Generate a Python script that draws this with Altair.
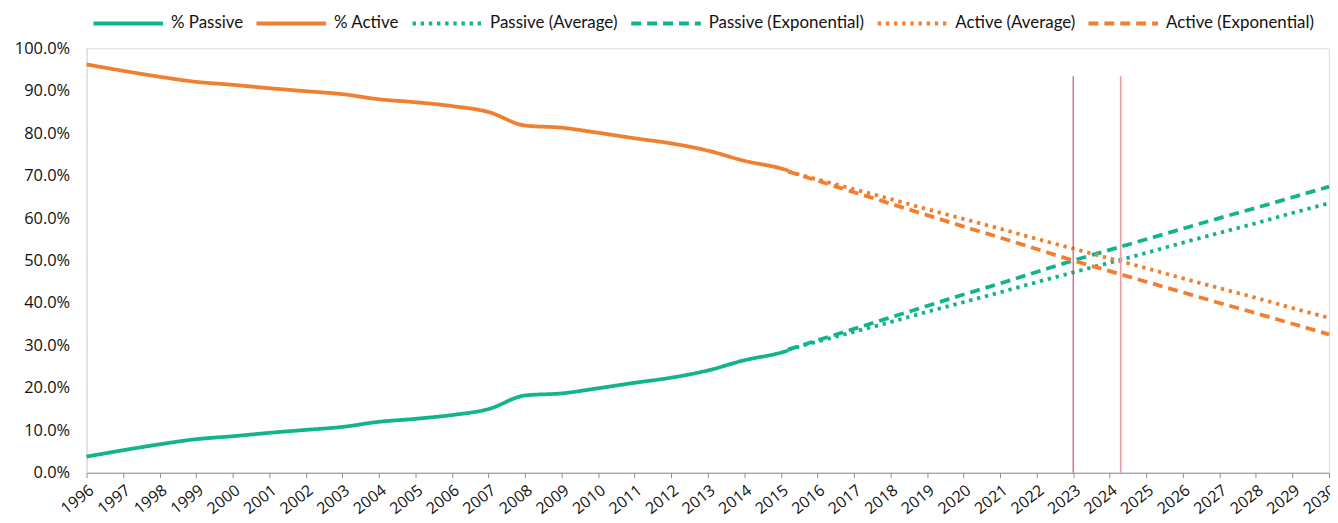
import altair as alt
import pandas as pd

# ---- data ----
hist_years = [1996, 1997, 1998, 1999, 2000, 2001, 2002, 2003, 2004, 2005,
              2006, 2007, 2008, 2009, 2010, 2011, 2012, 2013, 2014, 2015, 2015.2]
passive_pct = [3.8, 5.3, 6.7, 7.9, 8.6, 9.4, 10.1, 10.8, 12.0, 12.7,
               13.6, 15.0, 18.2, 18.7, 19.9, 21.2, 22.4, 24.1, 26.5, 28.3, 28.8]
active_pct = [96.2, 94.7, 93.3, 92.1, 91.4, 90.6, 89.9, 89.2, 88.0, 87.3,
              86.4, 85.0, 81.8, 81.3, 80.1, 78.8, 77.6, 75.9, 73.5, 71.7, 71.2]

proj_years = [2015.2, 2016, 2017, 2018, 2019, 2020, 2021, 2022, 2023,
              2024, 2025, 2026, 2027, 2028, 2029, 2030]
passive_avg = [29.0, 30.9, 33.2, 35.5, 37.9, 40.2, 42.5, 44.9, 47.2,
               49.5, 51.8, 54.2, 56.5, 58.8, 61.2, 63.5]
passive_exp = [29.0, 31.2, 33.9, 36.6, 39.3, 42.0, 44.6, 47.3, 50.0,
               52.5, 55.0, 57.5, 60.0, 62.4, 64.9, 67.4]
active_avg = [71.0, 69.1, 66.8, 64.5, 62.1, 59.8, 57.5, 55.1, 52.8,
              50.5, 48.2, 45.8, 43.5, 41.2, 38.8, 36.5]
active_exp = [71.0, 68.8, 66.1, 63.4, 60.7, 58.0, 55.4, 52.7, 50.0,
              47.5, 45.0, 42.5, 40.0, 37.6, 35.1, 32.6]

series_names = ["% Passive", "% Active", "Passive (Average)",
                "Passive (Exponential)", "Active (Average)", "Active (Exponential)"]
marker_years = [2023.0, 2024.3]
marker_top = 93.4
x_ticks = list(range(1996, 2031))
y_ticks = [i / 10 for i in range(11)]

# ---- build table ----
rows = []
for name, yrs, vals in [
    ("% Passive", hist_years, passive_pct),
    ("% Active", hist_years, active_pct),
    ("Passive (Average)", proj_years, passive_avg),
    ("Passive (Exponential)", proj_years, passive_exp),
    ("Active (Average)", proj_years, active_avg),
    ("Active (Exponential)", proj_years, active_exp),
]:
    for yv, v in zip(yrs, vals):
        rows.append({"series": name, "year": yv, "share": v / 100})
df = pd.DataFrame(rows)

GREEN = "#12b48b"
ORANGE = "#f07f2f"

x_scale = alt.Scale(domain=[1996, 2030], nice=False, zero=False)
y_scale = alt.Scale(domain=[0, 1], nice=False)

x_axis = alt.Axis(values=x_ticks, format="d", labelAngle=322, labelFontSize=16,
                  labelFont="Open Sans", labelColor="#111", domainColor="#8f8f8f",
                  tickColor="#8f8f8f", tickSize=5, labelPadding=4, grid=False,
                  labelOverlap=False, labelFlush=False, labelBound=False, title=None)
y_axis = alt.Axis(values=y_ticks, format=".1%", labelFontSize=16.5,
                  labelFont="Open Sans", labelColor="#111", domainColor="#d9d9d9",
                  ticks=False, labelPadding=17, grid=False, title=None)

legend = alt.Legend(title=None, orient="none", direction="horizontal",
                    columns=6, legendX=5, legendY=-62,
                    symbolType="stroke", symbolSize=4900,
                    symbolStrokeWidth=4, labelFont="Lato",
                    labelFontSize=17, labelColor="#111",
                    labelOffset=6, columnPadding=5, labelLimit=300)

lines = alt.Chart(df).mark_line(strokeWidth=3.8, interpolate="monotone").encode(
    x=alt.X("year:Q", scale=x_scale, axis=x_axis),
    y=alt.Y("share:Q", scale=y_scale, axis=y_axis),
    color=alt.Color("series:N", sort=series_names,
                    scale=alt.Scale(domain=series_names,
                                    range=[GREEN, ORANGE, GREEN, GREEN, ORANGE, ORANGE]),
                    legend=legend),
    strokeDash=alt.StrokeDash("series:N", sort=series_names,
                              scale=alt.Scale(domain=series_names,
                                              range=[[1, 0], [1, 0], [3.4, 4.8], [10, 6],
                                                     [3.4, 4.8], [10, 6]]),
                              legend=legend),
    detail="series:N",
)

rule_df = pd.DataFrame({"year": marker_years, "top": [marker_top / 100] * len(marker_years)})
rule1 = alt.Chart(rule_df.iloc[[0]]).mark_rule(color="#cc4655", strokeWidth=1.1).encode(
    x=alt.X("year:Q", scale=x_scale, axis=x_axis),
    y=alt.Y("top:Q", scale=y_scale, axis=y_axis), y2=alt.value(427))
rule2 = alt.Chart(rule_df.iloc[[1]]).mark_rule(color="#ef9da5", strokeWidth=1.7).encode(
    x=alt.X("year:Q", scale=x_scale, axis=x_axis),
    y=alt.Y("top:Q", scale=y_scale, axis=y_axis), y2=alt.value(427))

chart = alt.layer(lines, rule1, rule2).properties(
    width=1250, height=427,
    autosize=alt.AutoSizeParams(type="none"),
    padding={"left": 79, "top": 39, "right": 1, "bottom": 48},
).configure_view(stroke=None).configure(background="white")

chart.save("out.html", embed_options={"renderer": "svg", "actions": False})
